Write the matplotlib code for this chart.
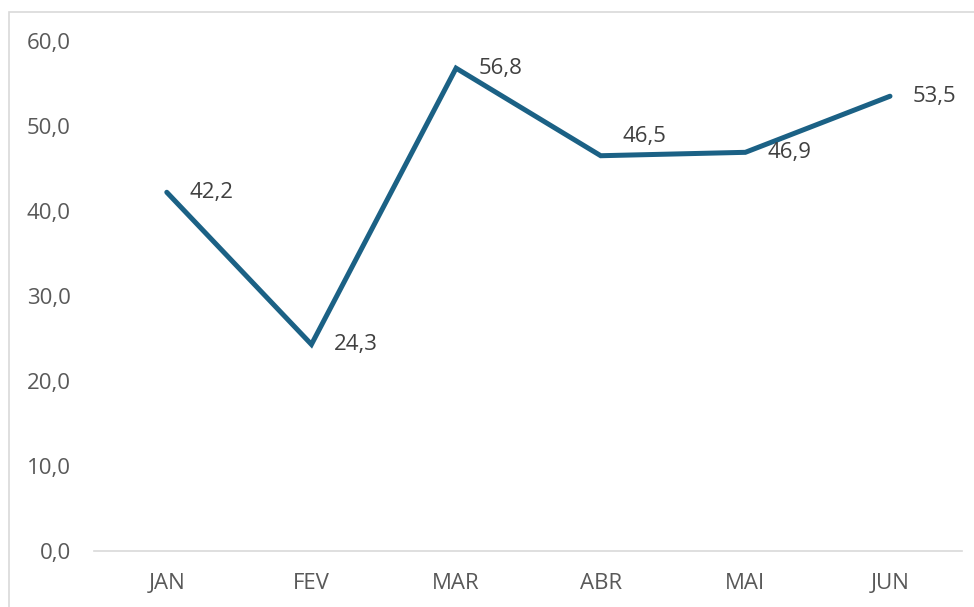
import matplotlib
matplotlib.use("Agg")
import matplotlib.pyplot as plt
from matplotlib.patches import Rectangle

months = ["JAN", "FEV", "MAR", "ABR", "MAI", "JUN"]
values = [42.2, 24.3, 56.8, 46.5, 46.9, 53.5]
yticks = [0, 10, 20, 30, 40, 50, 60]

plt.rcParams['font.family'] = ['Open Sans', 'DejaVu Sans']

fig = plt.figure(figsize=(9.74, 6.07), dpi=100)
ax = fig.add_axes([0.097, 0.0923, 0.891, 0.8402])

# outer chart border (cropped at right/bottom in the reference)
fig.patches.append(Rectangle((9/974, -0.05), 1.2, 1 - 12/607 + 0.05,
                             transform=fig.transFigure, fill=False,
                             edgecolor='#d9d9d9', linewidth=1.2))

x = list(range(len(months)))
ax.plot(x, values, color='#1b6185', linewidth=3.6, solid_capstyle='round',
        solid_joinstyle='miter')

for i, v in enumerate(values):
    dy = 14 if months[i] == "ABR" else 0
    ax.annotate(f"{v:.1f}".replace('.', ','), (i, v), xytext=(16, dy),
                textcoords='offset points', ha='left', va='center',
                fontsize=16, color='#404040')

ax.set_xlim(-0.5, len(months) - 0.5)
ax.set_ylim(0, 60)
ax.set_yticks(yticks)
ax.set_yticklabels([f"{t:.1f}".replace('.', ',') for t in yticks])
ax.set_xticks(x)
ax.set_xticklabels(months)
ax.tick_params(axis='both', length=0, labelsize=16, labelcolor='#595959')
ax.tick_params(axis='y', pad=17)
ax.tick_params(axis='x', pad=16)

for s in ['top', 'right', 'left']:
    ax.spines[s].set_visible(False)
ax.spines['bottom'].set_color('#d9d9d9')
ax.spines['bottom'].set_linewidth(1.2)
ax.set_clip_on(False)

fig.savefig("out.png", dpi=100)
